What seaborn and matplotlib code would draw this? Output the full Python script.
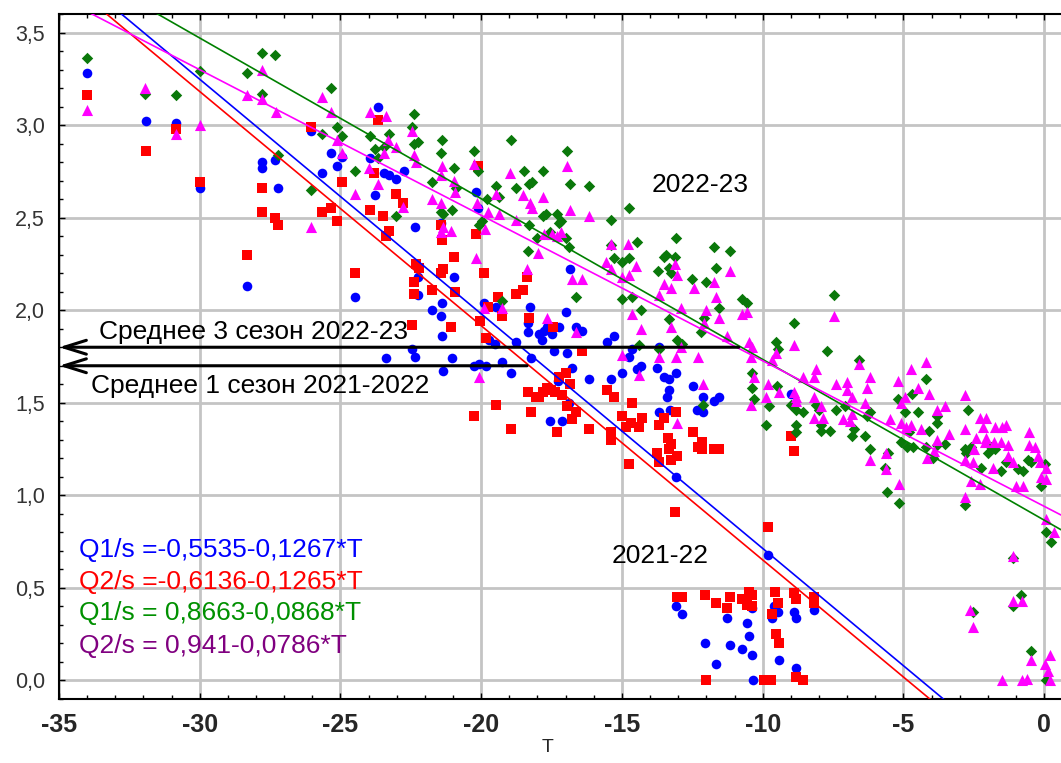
import numpy as np
import pandas as pd
import seaborn as sns
import matplotlib.pyplot as plt
from matplotlib.ticker import MultipleLocator

# season 2021-22, Q1/s (blue) and Q2/s (red)
t_q1_2122 = [-34.0, -31.91, -30.85, -30.0, -28.33, -27.8, -27.77, -27.34, -27.23, -26.06,
             -25.64, -25.32, -25.14, -24.93, -24.47, -23.65, -23.94, -23.44, -23.26, -23.01,
             -22.73, -23.76, -22.34, -22.23, -22.23, -20.96, -21.38, -21.74, -21.42, -21.38,
             -22.45, -22.34, -23.37, -21.35, -21.03, -21.42, -20.18, -20.11, -19.9, -19.47,
             -19.72, -19.5, -20.25, -20.07, -19.82, -19.26, -18.94, -18.76, -18.23, -18.26,
             -18.33, -18.33, -17.94, -17.77, -17.84, -17.66, -17.48, -17.23, -17.41, -16.99,
             -16.63, -16.42, -16.95, -16.77, -17.27, -16.88, -17.55, -17.13, -16.84, -16.17,
             -15.39, -15.53, -15.28, -15.0, -14.75, -14.65, -14.47, -14.33, -13.69, -13.76,
             -13.51, -13.33, -13.09, -13.33, -13.4, -13.69, -13.3, -12.48, -12.34, -13.09,
             -12.13, -12.13, -11.74, -11.56, -9.01, -9.82, -11.28, -10.57, -12.06, -11.17,
             -10.74, -10.5, -10.39, -11.67, -9.43, -8.83, -9.47, -9.61, -8.9, -8.8,
             -8.19, -10.39, -9.68, -10.35, -13.09, -12.87]
q1_2122 = [3.28, 3.02, 3.01, 2.66, 2.13, 2.80, 2.77, 2.81, 2.66, 2.97,
           2.74, 2.85, 2.78, 2.83, 2.07, 3.10, 2.82, 2.74, 2.73, 2.71,
           2.75, 2.62, 2.45, 2.18, 2.08, 2.18, 2.04, 2.00, 1.97, 1.86,
           1.79, 1.75, 1.74, 1.67, 1.74, 2.47, 2.64, 2.55, 2.04, 2.02,
           1.84, 1.82, 1.70, 1.71, 1.70, 1.72, 1.66, 1.83, 1.74, 2.02,
           1.93, 1.88, 1.87, 1.89, 1.84, 1.91, 1.87, 1.91, 1.78, 1.99,
           1.91, 1.89, 1.77, 1.69, 1.62, 1.50, 1.40, 1.40, 2.22, 1.63,
           1.63, 1.83, 1.86, 1.66, 1.75, 1.79, 1.68, 1.70, 1.80, 1.69,
           1.64, 1.63, 1.66, 1.57, 1.53, 1.45, 1.46, 1.59, 1.46, 1.10,
           1.53, 1.45, 1.51, 1.53, 1.55, 0.68, 0.335, 0.31, 0.20, 0.19,
           0.17, 0.24, 0.14, 0.09, 0.11, 0.065, 0.37, 0.40, 0.37, 0.34,
           0.38, 0.39, 0.34, 0.0, 0.40, 0.36]

t_q2_2122 = [-34.0, -31.91, -30.85, -30.0, -28.33, -27.8, -27.77, -27.34, -27.23, -26.06,
             -25.64, -25.32, -25.14, -24.93, -24.47, -23.65, -23.8, -23.94, -23.01, -22.77,
             -23.48, -23.26, -23.37, -21.42, -21.38, -20.96, -20.11, -20.18, -22.3, -22.2,
             -22.38, -22.38, -21.42, -21.35, -21.74, -20.92, -19.9, -21.06, -22.45, -19.75,
             -19.4, -19.26, -20.04, -19.82, -18.76, -18.51, -18.37, -18.3, -17.45, -16.42,
             -17.23, -16.99, -16.84, -18.33, -18.05, -17.94, -17.8, -17.66, -17.52, -17.38,
             -17.13, -16.95, -16.63, -16.77, -19.47, -20.25, -18.23, -18.94, -17.3, -16.17,
             -15.53, -15.28, -15.39, -15.39, -14.65, -15.0, -14.68, -14.86, -14.4, -14.29,
             -14.75, -13.09, -13.51, -13.69, -13.37, -13.26, -13.33, -13.05, -13.26, -13.76,
             -13.69, -12.48, -12.3, -12.16, -12.16, -11.74, -11.56, -9.01, -8.9, -9.82,
             -13.12, -13.05, -12.87, -12.06, -11.67, -11.28, -11.17, -10.74, -10.5, -10.39,
             -10.57, -10.39, -9.57, -9.47, -9.68, -9.54, -9.43, -8.9, -8.83, -8.19,
             -8.19, -12.02, -9.96, -9.72, -8.83, -8.55]
q2_2122 = [3.16, 2.86, 2.98, 2.69, 2.30, 2.66, 2.53, 2.50, 2.46, 2.99,
           2.53, 2.55, 2.48, 2.69, 2.20, 3.03, 2.74, 2.54, 2.63, 2.58,
           2.51, 2.43, 2.40, 2.46, 2.38, 2.29, 2.78, 2.41, 2.25, 2.23,
           2.15, 2.09, 2.20, 2.22, 2.11, 2.10, 2.20, 1.91, 1.92, 2.02,
           2.07, 1.97, 1.94, 1.85, 2.09, 2.11, 2.18, 1.96, 1.91, 1.78,
           1.64, 1.66, 1.60, 1.56, 1.53, 1.53, 1.56, 1.58, 1.57, 1.56,
           1.54, 1.48, 1.45, 1.41, 1.49, 1.43, 1.45, 1.36, 1.34, 1.36,
           1.57, 1.53, 1.34, 1.30, 1.50, 1.43, 1.39, 1.37, 1.37, 1.42,
           1.17, 1.45, 1.42, 1.38, 1.31, 1.28, 1.25, 1.21, 1.19, 1.23,
           1.18, 1.34, 1.26, 1.29, 1.25, 1.25, 1.25, 1.32, 1.24, 0.83,
           0.91, 0.45, 0.45, 0.46, 0.42, 0.39, 0.45, 0.44, 0.48, 0.46,
           0.41, 0.40, 0.48, 0.42, 0.36, 0.25, 0.20, 0.47, 0.44, 0.45,
           0.42, 0.0, 0.0, 0.0, 0.02, 0.0]

# season 2022-23, Q1/s (green) and Q2/s (magenta)
t_q1_2223 = [-34.0, -31.95, -30.85, -30.0, -28.33, -27.77, -27.8, -27.34, -27.23, -26.06,
             -25.64, -25.32, -25.14, -24.93, -24.47, -22.38, -22.45, -23.94, -23.26, -23.76,
             -23.44, -22.38, -22.23, -23.65, -23.01, -21.38, -21.42, -21.74, -20.96, -20.89,
             -21.42, -21.35, -21.03, -20.25, -20.11, -19.79, -19.47, -19.36, -19.96, -20.07,
             -19.26, -18.94, -18.76, -18.48, -18.3, -18.19, -18.3, -18.33, -17.8, -17.7,
             -17.8, -18.01, -17.55, -17.3, -17.16, -17.23, -16.99, -16.88, -16.95, -16.84,
             -16.17, -16.63, -15.39, -14.75, -14.47, -15.39, -13.09, -13.44, -13.12, -15.28,
             -15.0, -14.75, -13.72, -13.51, -13.33, -13.26, -12.52, -15.0, -14.65, -14.33,
             -14.4, -13.33, -13.05, -12.87, -13.69, -11.74, -11.17, -11.67, -12.02, -11.56,
             -12.09, -12.2, -10.74, -10.57, -7.48, -8.9, -9.54, -9.47, -7.73, -12.13,
             -10.39, -10.39, -10.32, -9.79, -9.5, -9.89, -9.01, -8.8, -8.55, -8.83,
             -8.8, -8.09, -8.0, -7.91, -7.91, -7.62, -7.38, -7.06, -6.77, -6.84,
             -6.56, -6.31, -6.17, -6.38, -6.17, -5.53, -5.64, -5.57, -5.14, -5.18,
             -5.07, -4.93, -4.79, -4.86, -4.65, -4.68, -4.47, -4.18, -4.08, -4.18,
             -3.94, -3.79, -3.79, -3.79, -3.51, -2.7, -2.8, -2.8, -2.59, -1.88,
             -1.99, -1.74, -1.52, -1.35, -0.92, -0.74, -2.23, -2.77, -0.57, -0.46,
             0.04, -0.11, 0.07, 0.25, -1.1, -0.82, -1.1, -2.52, -0.46, 0.07]
q1_2223 = [3.36, 3.17, 3.16, 3.29, 3.28, 3.39, 3.17, 3.38, 2.84, 2.65,
           2.95, 3.20, 2.99, 2.94, 2.75, 3.06, 2.99, 2.94, 2.95, 2.87,
           2.88, 2.90, 2.91, 2.82, 2.51, 2.92, 2.85, 2.69, 2.77, 2.66,
           2.53, 2.52, 2.54, 2.86, 2.75, 2.60, 2.67, 2.61, 2.48, 2.46,
           2.05, 2.92, 2.66, 2.75, 2.68, 2.69, 2.46, 2.32, 2.75, 2.52,
           2.51, 2.39, 2.42, 2.52, 2.48, 2.47, 2.39, 2.34, 2.86, 2.68,
           2.67, 2.07, 2.49, 2.55, 2.37, 2.35, 2.39, 2.30, 2.29, 2.28,
           2.26, 2.28, 2.21, 2.29, 2.23, 2.20, 2.17, 2.06, 2.07, 2.00,
           1.81, 1.95, 1.84, 1.82, 1.79, 2.34, 2.32, 2.23, 2.15, 2.01,
           1.96, 1.88, 2.06, 2.04, 2.08, 1.93, 1.83, 1.79, 1.78, 1.49,
           1.66, 1.58, 1.52, 1.48, 1.59, 1.38, 1.49, 1.46, 1.45, 1.38,
           1.34, 1.49, 1.46, 1.38, 1.35, 1.35, 1.46, 1.48, 1.36, 1.32,
           1.73, 1.43, 1.45, 1.32, 1.25, 1.23, 1.15, 1.02, 0.96, 1.52,
           1.29, 1.45, 1.34, 1.26, 1.26, 1.55, 1.45, 1.63, 1.35, 1.26,
           1.20, 1.43, 1.39, 1.27, 1.28, 1.46, 1.25, 0.95, 1.26, 1.26,
           1.23, 1.25, 1.13, 1.18, 1.14, 1.13, 1.15, 1.23, 1.19, 1.18,
           1.17, 1.05, 0.80, 0.75, 0.66, 0.46, 0.40, 0.37, 0.16, 0.0]

t_q2_2223 = [-34.0, -31.95, -30.85, -30.0, -28.33, -27.8, -27.77, -27.3, -26.06, -25.64,
             -25.32, -25.14, -24.93, -24.47, -23.94, -23.37, -22.45, -23.3, -23.01, -22.38,
             -22.3, -23.44, -23.97, -23.65, -22.77, -21.38, -21.42, -20.96, -20.92, -21.74,
             -21.42, -21.35, -21.42, -21.06, -20.25, -19.47, -20.14, -19.75, -19.36, -19.86,
             -20.18, -18.97, -18.76, -18.51, -18.26, -18.19, -17.8, -17.77, -17.48, -17.98,
             -17.16, -17.3, -16.95, -16.84, -16.17, -14.79, -15.39, -19.9, -19.26, -20.07,
             -18.37, -17.66, -16.63, -16.77, -16.42, -15.57, -15.39, -14.5, -15.0, -14.75,
             -14.65, -14.33, -15.0, -14.4, -13.12, -13.05, -13.51, -13.26, -13.69, -12.91,
             -13.26, -12.91, -13.09, -13.69, -12.45, -12.3, -13.05, -11.17, -11.74, -11.67,
             -12.02, -11.56, -12.09, -10.74, -10.57, -11.28, -10.5, -10.39, -10.43, -10.32,
             -10.43, -12.13, -7.48, -8.9, -9.54, -9.68, -9.89, -9.82, -9.43, -8.9,
             -8.83, -8.8, -8.55, -8.19, -8.09, -8.19, -7.94, -8.19, -7.87, -7.38,
             -7.02, -7.02, -7.16, -6.81, -6.84, -6.88, -6.56, -6.35, -6.28, -6.17,
             -6.17, -5.6, -5.46, -5.6, -5.14, -5.18, -5.07, -5.07, -4.93, -4.89,
             -4.72, -4.72, -4.47, -4.18, -4.08, -4.36, -4.15, -3.9, -3.79, -3.79,
             -3.51, -3.37, -2.8, -2.8, -2.8, -2.8, -2.59, -2.27, -2.06, -2.16,
             -1.74, -1.49, -1.35, -2.41, -2.06, -2.27, -2.09, -1.77, -1.52, -1.28,
             -1.28, -1.1, -2.48, -1.81, -2.52, -1.0, -0.74, -0.53, -0.53, -0.32,
             -0.21, -0.14, 0.07, -0.11, 0.07, 0.07, 0.35, -1.1, -1.1, -0.78,
             -2.63, -2.52, -0.46, 0.21, 0.04, 0.14, -1.49, -0.78, -0.6, 0.21]
q2_2223 = [3.08, 3.20, 2.95, 3.00, 3.16, 3.30, 3.14, 3.07, 2.45, 3.15,
           3.07, 2.92, 2.85, 2.63, 3.07, 3.05, 2.97, 2.92, 2.88, 2.84,
           2.80, 2.85, 2.77, 2.68, 2.56, 2.78, 2.73, 2.70, 2.64, 2.60,
           2.58, 2.45, 2.42, 2.43, 2.79, 2.63, 2.58, 2.53, 2.52, 2.44,
           2.28, 2.74, 2.49, 2.62, 2.58, 2.55, 2.61, 2.41, 2.41, 2.31,
           2.42, 2.40, 2.78, 2.54, 2.51, 2.36, 2.36, 2.01, 2.01, 1.64,
           2.22, 1.96, 1.88, 2.17, 2.17, 2.26, 2.22, 2.24, 2.18, 2.19,
           1.98, 1.90, 1.76, 1.65, 2.25, 2.19, 2.14, 2.12, 2.08, 2.01,
           1.91, 1.80, 1.75, 1.75, 2.12, 1.75, 1.39, 2.21, 2.15, 2.07,
           2.00, 1.96, 1.93, 1.98, 1.99, 1.86, 1.83, 1.80, 1.75, 1.64,
           1.49, 1.60, 1.97, 1.81, 1.77, 1.73, 1.53, 1.60, 1.56, 1.56,
           1.53, 1.51, 1.64, 1.64, 1.68, 1.53, 1.48, 1.42, 1.42, 1.60,
           1.61, 1.57, 1.41, 1.53, 1.44, 1.40, 1.71, 1.50, 1.58, 1.64,
           1.19, 1.23, 1.41, 1.14, 1.06, 1.62, 1.50, 1.39, 1.53, 1.37,
           1.38, 1.68, 1.58, 1.72, 1.55, 1.36, 1.20, 1.24, 1.46, 1.30,
           1.48, 1.33, 1.54, 1.36, 1.19, 0.99, 1.08, 1.42, 1.42, 1.37,
           1.37, 1.37, 1.38, 1.31, 1.31, 1.06, 1.29, 1.29, 1.29, 1.27,
           1.21, 1.18, 1.25, 1.15, 1.18, 1.05, 1.05, 1.34, 1.27, 1.26,
           1.21, 1.18, 1.15, 1.10, 1.09, 0.87, 0.80, 0.67, 0.43, 0.43,
           0.38, 0.29, 0.11, 0.14, 0.09, 0.05, 0.0, 0.0, 0.01, 0.0]

# regression coefficients (intercept, slope) shown in the legend text
fit_q1_2122 = (-0.5535, -0.1267)
fit_q2_2122 = (-0.6136, -0.1265)
fit_q1_2223 = (0.8663, -0.0868)
fit_q2_2223 = (0.941, -0.0786)

mean_2223 = 1.80
mean_2122 = 1.70
mean_2223_end = -10.85
mean_2122_end = -18.37

x_ticks = [-35, -30, -25, -20, -15, -10, -5, 0]
y_ticks = [0.0, 0.5, 1.0, 1.5, 2.0, 2.5, 3.0, 3.5]
y_tick_labels = ['0,0', '0,5', '1,0', '1,5', '2,0', '2,5', '3,0', '3,5']

sns.set_theme(style='white')
plt.rcParams['font.family'] = ['Liberation Sans', 'DejaVu Sans']

fig = plt.figure(figsize=(10.61, 7.63), dpi=100, facecolor='white')
ax = fig.add_axes([59/1061, 1-699/763, 1002/1061, 685/763])

blue, red, green, pink = '#0000ff', '#ff0000', '#0a780a', '#ff00ff'

sns.scatterplot(x=t_q1_2122, y=q1_2122, marker='o', color=blue, s=48, linewidth=0, ax=ax, zorder=3)
sns.scatterplot(x=t_q2_2122, y=q2_2122, marker='s', color=red, s=52, linewidth=0, ax=ax, zorder=3)
sns.scatterplot(x=t_q1_2223, y=q1_2223, marker='D', color=green, s=34, linewidth=0, ax=ax, zorder=3)
sns.scatterplot(x=t_q2_2223, y=q2_2223, marker='^', color=pink, s=64, linewidth=0, ax=ax, zorder=3)

xs = np.array([-35, 0.6])
for (a, b), c in [(fit_q1_2122, blue), (fit_q2_2122, red),
                  (fit_q1_2223, '#008000'), (fit_q2_2223, pink)]:
    ax.plot(xs, a + b * xs, color=c, lw=1.2, zorder=4)

# arrows for the seasonal means
for yv, xe in [(mean_2223, mean_2223_end), (mean_2122, mean_2122_end)]:
    ax.annotate('', xy=(-35, yv), xytext=(xe, yv),
                arrowprops=dict(arrowstyle='->,head_length=0.8,head_width=0.25',
                                color='black', lw=2.2, mutation_scale=20,
                                shrinkA=0, shrinkB=0), zorder=5)

ax.text(-33.58, 1.847, 'Среднее 3 сезон 2022-23', fontsize=19, va='baseline', color='black')
ax.text(-33.87, 1.555, 'Среднее 1 сезон 2021-2022', fontsize=19, va='baseline', color='black')
ax.text(-13.94, 2.64, '2022-23', fontsize=19, va='baseline', color='black')
ax.text(-15.35, 0.637, '2021-22', fontsize=19, va='baseline', color='black')

eq_lines = [('Q1/s =-0,5535-0,1267*T', blue, 0.665),
            ('Q2/s =-0,6136-0,1265*T', red, 0.493),
            ('Q1/s = 0,8663-0,0868*T', '#009000', 0.325),
            ('Q2/s = 0,941-0,0786*T', '#800080', 0.147)]
for txt, c, yb in eq_lines:
    ax.text(-34.3, yb, txt, fontsize=19, color=c, va='baseline')

ax.set_xlim(-35, 0.6)
ax.set_ylim(-0.1, 3.6)
ax.set_xticks(x_ticks)
ax.set_xticklabels([str(v) for v in x_ticks], fontweight='bold', fontsize=18)
ax.set_yticks(y_ticks)
ax.set_yticklabels(y_tick_labels, fontsize=15.5, color='#333333')
ax.xaxis.set_minor_locator(MultipleLocator(1))
ax.yaxis.set_minor_locator(MultipleLocator(0.1))
ax.tick_params(which='both', direction='in', top=True, bottom=True, left=True, right=False, color='black')
ax.tick_params(which='major', length=4, width=1)
ax.tick_params(which='minor', length=3, width=1)
ax.tick_params(axis='x', which='major', pad=10)
ax.tick_params(axis='y', which='major', pad=10)

ax.grid(True, which='major', color='#c4c4c4', lw=2)
ax.set_axisbelow(True)
for side in ['left', 'bottom', 'top']:
    ax.spines[side].set_color('black')
    ax.spines[side].set_linewidth(1.5)
ax.spines['right'].set_visible(False)

ax.set_xlabel('T', fontsize=14)
ax.xaxis.set_label_coords(0.488, -0.058)
ax.set_ylabel('')

fig.savefig('out.png', dpi=100, facecolor='white')
